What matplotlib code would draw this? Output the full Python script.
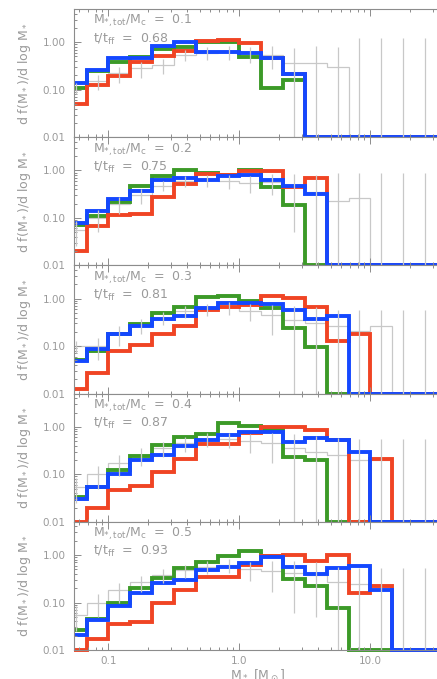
import numpy as np
import matplotlib
matplotlib.use("Agg")
import matplotlib.pyplot as plt
from matplotlib.ticker import FixedLocator, FixedFormatter, LogLocator, NullFormatter
from matplotlib.transforms import Bbox, TransformedBbox

plt.rcParams['font.family'] = ['DejaVu Sans']
plt.rcParams['mathtext.fontset'] = 'dejavusans'

# mass bins: 1/6 dex wide
edges = 10.0 ** (np.arange(-8, 11) / 6.0)
centers = np.sqrt(edges[:-1] * edges[1:])

mass_ratio = ["0.1", "0.2", "0.3", "0.4", "0.5"]
t_tff = ["0.68", "0.75", "0.81", "0.87", "0.93"]

blue = [
    [0.14, 0.26, 0.46, 0.46, 0.82, 1.00, 0.62, 0.62, 0.60, 0.46, 0.21, 0, 0, 0, 0, 0, 0, 0],
    [0.08, 0.14, 0.25, 0.36, 0.62, 0.69, 0.64, 0.75, 0.81, 0.64, 0.48, 0.32, 0, 0, 0, 0, 0, 0],
    [0.049, 0.085, 0.18, 0.26, 0.37, 0.44, 0.63, 0.81, 0.81, 0.78, 0.58, 0.38, 0.42, 0, 0, 0, 0, 0],
    [0.03, 0.055, 0.10, 0.20, 0.25, 0.39, 0.54, 0.67, 0.78, 0.78, 0.48, 0.57, 0.52, 0.29, 0, 0, 0, 0],
    [0.021, 0.043, 0.085, 0.16, 0.26, 0.30, 0.48, 0.57, 0.69, 0.89, 0.57, 0.39, 0.52, 0.59, 0.18, 0, 0, 0],
]
green = [
    [0.11, 0.25, 0.39, 0.49, 0.72, 0.80, 1.00, 1.00, 0.49, 0.107, 0.16, 0, 0, 0, 0, 0, 0, 0],
    [0.07, 0.11, 0.22, 0.46, 0.77, 1.03, 0.88, 0.80, 1.03, 0.44, 0.19, 0, 0, 0, 0, 0, 0, 0],
    [0.05, 0.08, 0.18, 0.29, 0.50, 0.67, 1.08, 1.12, 0.88, 0.63, 0.24, 0.095, 0, 0, 0, 0, 0, 0],
    [0.033, 0.055, 0.125, 0.24, 0.41, 0.60, 0.72, 1.18, 1.03, 0.92, 0.23, 0.20, 0, 0, 0, 0, 0, 0],
    [0.026, 0.046, 0.10, 0.20, 0.33, 0.54, 0.72, 0.95, 1.23, 0.95, 0.31, 0.22, 0.076, 0, 0, 0, 0, 0],
]
red = [
    [0.051, 0.125, 0.19, 0.39, 0.50, 0.64, 1.05, 1.10, 0.97, 0.46, 0.21, 0, 0, 0, 0, 0, 0, 0],
    [0.02, 0.066, 0.117, 0.12, 0.28, 0.52, 0.85, 0.81, 0.95, 0.95, 0.45, 0.68, 0, 0, 0, 0, 0, 0],
    [0.0128, 0.027, 0.08, 0.107, 0.18, 0.27, 0.58, 0.66, 0.75, 1.15, 1.03, 0.67, 0.125, 0.18, 0, 0, 0, 0],
    [0, 0.02, 0.047, 0.058, 0.11, 0.21, 0.44, 0.44, 0.75, 1.00, 1.00, 0.85, 0.54, 0, 0.21, 0, 0, 0],
    [0, 0.017, 0.035, 0.038, 0.10, 0.18, 0.34, 0.35, 0.62, 0.95, 1.00, 0.76, 1.00, 0.16, 0.22, 0, 0, 0],
]
gray = [
    [0.11, 0.15, 0.22, 0.28, 0.33, 0.55, 0.60, 0.62, 0.58, 0.55, 0.37, 0.37, 0.30, 0, 0, 0, 0, 0],
    [0.055, 0.10, 0.20, 0.30, 0.48, 0.60, 0.62, 0.60, 0.55, 0.58, 0.45, 0.35, 0.23, 0.26, 0, 0, 0, 0],
    [0.10, 0.10, 0.18, 0.28, 0.40, 0.55, 0.60, 0.65, 0.55, 0.45, 0.35, 0.30, 0.27, 0.21, 0.26, 0, 0, 0],
    [0.055, 0.10, 0.17, 0.25, 0.35, 0.45, 0.55, 0.55, 0.50, 0.45, 0.35, 0.30, 0.25, 0.20, 0.20, 0, 0, 0],
    [0.055, 0.10, 0.18, 0.27, 0.38, 0.48, 0.57, 0.62, 0.50, 0.45, 0.41, 0.38, 0.27, 0.24, 0.23, 0, 0, 0],
]
gray_err = [
    [0.03, 0.05, 0.08, 0.10, 0.12, 0.15, 0.18, 0.20, 0.22, 0.28, 0.40, 0.45, 0.50, 1.2, 1.2, 1.2, 1.2, 1.2],
    [0.03, 0.05, 0.08, 0.10, 0.12, 0.15, 0.18, 0.20, 0.22, 0.28, 0.40, 0.45, 0.67, 0.64, 0.9, 0.9, 0.9, 0.9],
    [0.03, 0.05, 0.08, 0.10, 0.12, 0.15, 0.18, 0.20, 0.22, 0.28, 0.35, 0.35, 0.31, 0.37, 0.32, 0.58, 0.58, 0.58],
    [0.03, 0.05, 0.08, 0.10, 0.12, 0.15, 0.18, 0.20, 0.22, 0.28, 0.35, 0.35, 0.33, 0.36, 0.36, 0.56, 0.56, 0.56],
    [0.03, 0.05, 0.08, 0.10, 0.12, 0.15, 0.18, 0.20, 0.22, 0.28, 0.35, 0.33, 0.30, 0.28, 0.30, 0.52, 0.52, 0.52],
]

xticks = [0.1, 1.0, 10.0]
xticklabels = ["0.1", "1.0", "10.0"]
yticks = [0.01, 0.1, 1.0]
yticklabels = ["0.01", "0.10", "1.00"]

YMIN, YMAX = 0.01, 5.0
txt = '#9a9a9a'
frame = '#8c8c8c'

fig = plt.figure(figsize=(4.37, 6.79), dpi=100)

W, H = 437.0, 679.0
x0, x1 = 74.0, 441.0
top0, ph = 9.0, 128.2


def floor(v):
    return np.maximum(np.asarray(v, dtype=float), YMIN)


for i in range(5):
    ax = fig.add_axes([x0 / W, 1 - (top0 + (i + 1) * ph) / H, (x1 - x0) / W, ph / H])
    ax.set_xscale('log')
    ax.set_yscale('log')
    ax.set_xlim(10 ** -1.263, 10 ** 1.539)
    ax.set_ylim(YMIN, YMAX)

    # reference distribution with error bars
    g = np.asarray(gray[i], dtype=float)
    e = np.asarray(gray_err[i], dtype=float)
    ax.stairs(floor(g), edges, baseline=None, color='#c8c8c8', lw=0.9)
    ax.vlines(centers, floor(g - e), g + e, color='#c8c8c8', lw=0.9)

    # let the thick lines show full width where they lie on the bottom axis
    clip = TransformedBbox(Bbox([[0, -0.02], [1, 1]]), ax.transAxes)
    for vals, col in ((green[i], '#3c9a28'), (red[i], '#f04424'), (blue[i], '#1448ff')):
        st = ax.stairs(floor(vals), edges, baseline=None, color=col, lw=2.8)
        st.set_clip_box(clip)

    ax.text(0.052, 0.905, r"M$_{*,\rm tot}$/M$_{\rm c}$  =  " + mass_ratio[i],
            transform=ax.transAxes, color=txt, fontsize=9, va='center', ha='left')
    ax.text(0.052, 0.765, r"t/t$_{\rm ff}$  =  " + t_tff[i],
            transform=ax.transAxes, color=txt, fontsize=9, va='center', ha='left')

    ax.yaxis.set_major_locator(FixedLocator(yticks))
    ax.yaxis.set_major_formatter(FixedFormatter(yticklabels))
    ax.yaxis.set_minor_locator(LogLocator(base=10, subs=np.arange(2, 10)))
    ax.yaxis.set_minor_formatter(NullFormatter())
    ax.xaxis.set_major_locator(FixedLocator(xticks))
    ax.xaxis.set_minor_locator(LogLocator(base=10, subs=np.arange(2, 10)))
    ax.xaxis.set_minor_formatter(NullFormatter())
    if i == 4:
        ax.xaxis.set_major_formatter(FixedFormatter(xticklabels))
        ax.set_xlabel(r"M$_*$ [M$_\odot$]", color=txt, fontsize=9, labelpad=2)
    else:
        ax.xaxis.set_major_formatter(NullFormatter())

    ax.tick_params(which='both', direction='in', top=True, right=False,
                   color=frame, labelcolor=txt, labelsize=7.5, width=0.7)
    ax.tick_params(which='major', length=5, pad=4)
    ax.tick_params(which='minor', length=2.5)
    ax.tick_params(axis='y', which='major', pad=6)

    ax.set_ylabel(r"d f(M$_*$)/d log M$_*$", color=txt, fontsize=9)
    ax.yaxis.set_label_coords(-0.112, 0.5)

    for s in ax.spines.values():
        s.set_color(frame)
        s.set_linewidth(0.8)

fig.savefig("out.png", dpi=100)
